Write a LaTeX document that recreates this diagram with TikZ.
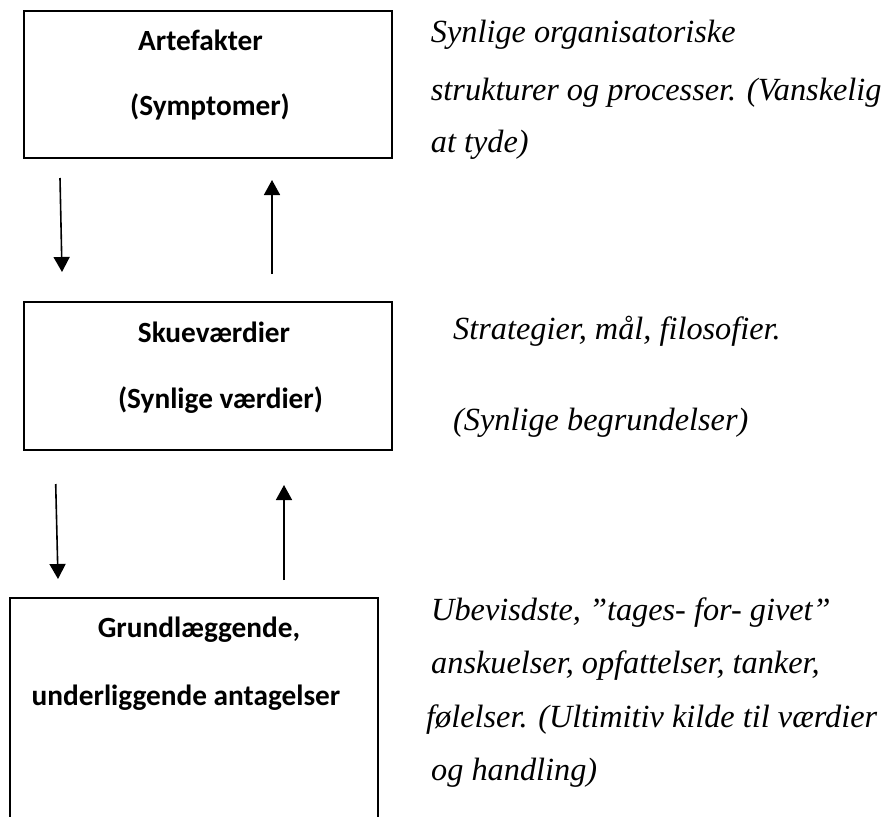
\documentclass[tikz,border=0pt]{standalone}
\usepackage{fontspec}
\setmainfont{Liberation Serif}
\newfontfamily\boxfont{Carlito}[BoldFont={Carlito Bold}]
\usetikzlibrary{arrows.meta}
\tikzset{
  boxframe/.style={draw=black, line width=1.6pt, fill=none},
  boxtext/.style={font=\boxfont\bfseries\fontsize{29.3}{34}\selectfont, inner sep=0pt, anchor=base},
  sidetext/.style={font=\itshape\fontsize{32.3}{36}\selectfont, inner sep=0pt, anchor=base west},
  arr/.style={line width=1.6pt, -{Triangle[length=15pt,width=16pt]}}
}
\begin{document}
\begin{tikzpicture}[x=1pt,y=-1pt]
\useasboundingbox (0,0) rectangle (893,816);
\clip (0,0) rectangle (893,816);
% boxes
\node[boxframe, minimum width=368pt, minimum height=147pt, inner sep=0pt] (b1) at (207.7,84.5) {};
\node[boxframe, minimum width=368pt, minimum height=148pt, inner sep=0pt] (b2) at (207.7,376) {};
\coordinate (b3bl) at (10,830);
\coordinate (b3tl) at (10,598);
\coordinate (b3tr) at (378,598);
\coordinate (b3br) at (378,830);
\draw[draw=black, line width=1.6pt] (b3bl) -- (b3tl) -- (b3tr) -- (b3br);
% box texts
\node[boxtext] (t1a) at (200.5,50) {Artefakter};
\node[boxtext] (t1b) at (210,115) {(Symptomer)};
\node[boxtext] (t2a) at (214,342) {Skueværdier};
\node[boxtext] (t2b) at (220.5,408) {(Synlige værdier)};
\node[boxtext] (t3a) at (199,637) {Grundlæggende,};
\node[boxtext] (t3b) at (186,705) {underliggende antagelser};
% arrows
\coordinate (d1s) at (60,178);
\coordinate (d1e) at (62,272);
\coordinate (u1s) at (272,274);
\coordinate (u1e) at (272,180);
\coordinate (d2s) at (55.7,484);
\coordinate (d2e) at (58,579);
\coordinate (u2s) at (284,580);
\coordinate (u2e) at (284,485);
\draw[arr] (d1s) -- (d1e);
\draw[arr] (u1s) -- (u1e);
\draw[arr] (d2s) -- (d2e);
\draw[arr] (u2s) -- (u2e);
% side texts
\node[sidetext] (s1a) at (430.7,43) {Synlige organisatoriske};
\node[sidetext] (s1b) at (430.7,100) {strukturer og processer. (Vanskelig};
\node[sidetext] (s1c) at (430.7,152) {at tyde)};
\node[sidetext] (s2a) at (453,339) {Strategier, mål, filosofier.};
\node[sidetext] (s2b) at (453,430) {(Synlige begrundelser)};
\node[sidetext] (s3a) at (431,620) {Ubevisdste, ”tages- for- givet”};
\node[sidetext] (s3b) at (431,673) {anskuelser, opfattelser, tanker,};
\node[sidetext] (s3c) at (426,727) {følelser. (Ultimitiv kilde til værdier};
\node[sidetext] (s3d) at (431,780) {og handling)};
\end{tikzpicture}
\end{document}
